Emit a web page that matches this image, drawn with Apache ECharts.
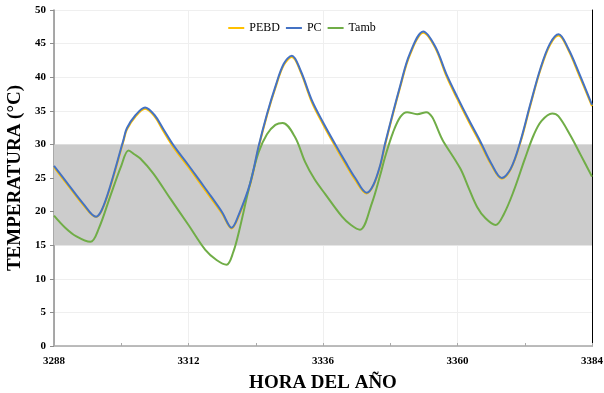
<!DOCTYPE html>
<html><head><meta charset="utf-8">
<script src="https://cdn.jsdelivr.net/npm/echarts@6/dist/echarts.min.js"></script>
<style>html,body{margin:0;padding:0;background:#fff}#c{width:604px;height:393px}</style>
</head><body><div id="c"></div>
<script>
var xTicks = [3288, 3312, 3336, 3360, 3384];
var pcHours = [3288,3290.5,3293.2,3295.5,3296.5,3298,3300.4,3301,3302.5,3304.25,3306,3307.5,3309.3,3312,3314,3316,3318,3319.7,3321,3323,3324.5,3326,3327.5,3329,3330.45,3332,3334,3336,3338.2,3340,3341.75,3343.8,3345,3346.2,3347.1,3349.8,3351.5,3353.9,3356,3358.1,3360,3362,3364.1,3366,3367.9,3369.5,3371.2,3373,3374.8,3376.5,3378.05,3379.8,3381.6,3384];
var pcVals   = [26.8,24.1,21.2,19.25,20.2,23.7,30.7,32.4,34.3,35.5,34.3,32.3,29.9,26.9,24.6,22.3,19.9,17.6,19.6,24.2,29.7,34.5,38.6,42.0,43.2,41.0,36.6,33.3,30.0,27.4,25.0,22.8,24.0,26.9,30.2,38.8,43.5,46.8,44.6,40.3,37.0,33.7,30.4,27.2,25.0,26.4,30.4,36.0,41.3,45.0,46.4,44.2,40.8,35.9];
var pebdVals = [26.6,23.9,21.0,19.2,20.1,23.5,30.5,32.2,34.1,35.3,34.1,32.0,29.6,26.6,24.3,22.0,19.7,17.5,19.4,24.0,29.5,34.3,38.4,41.8,43.0,40.8,36.3,33.0,29.7,27.1,24.7,22.7,23.9,26.7,30.0,38.6,43.3,46.6,44.4,40.0,36.7,33.4,30.1,27.0,24.9,26.3,30.2,35.8,41.1,44.8,46.2,44.0,40.5,35.7];
var tambHours = [3288,3290,3292,3294.5,3296,3298,3300,3301.3,3302.4,3303.4,3305.7,3308.7,3312,3315,3317,3318.8,3320,3321,3323,3324.5,3326,3327.5,3328.8,3331,3332.8,3334.5,3336.4,3339.4,3341,3342.6,3344.7,3346.2,3347.1,3348.5,3349.8,3351,3352.8,3354.4,3357.5,3360.5,3362,3363.5,3365,3366.8,3368.2,3370,3372,3373.6,3375,3376.9,3378,3380.1,3382,3384];
var tambVals  = [19.4,17.6,16.3,15.5,17.5,22.2,26.8,29.1,28.5,27.9,25.7,22.0,18.0,14.3,12.8,12.1,14.0,17.0,24.2,28.8,31.5,32.9,33.2,31.1,27.4,24.8,22.6,19.25,18.0,17.3,21.2,25.4,28.2,31.8,34.1,34.8,34.5,34.8,30.4,26.4,23.5,20.7,19.0,18.0,19.5,23.0,27.8,31.4,33.5,34.6,34.2,31.4,28.4,25.2];
var comfortBand = [15, 30];

function pairs(h, v){ return h.map(function(x,i){ return [x, v[i]]; }); }
var font = '"Liberation Serif","Times New Roman",serif';
var chart = echarts.init(document.getElementById('c'));
chart.setOption({
  animation: false,
  backgroundColor: '#fff',
  grid: {left: 54, right: 12, top: 10, bottom: 47, containLabel: false, outerBoundsMode: 'none'},
  legend: {
    top: 17, left: 'center', itemGap: 6, itemWidth: 16, itemHeight: 2, icon: 'rect',
    textStyle: {fontFamily: font, fontSize: 12, color: '#000'},
    data: ['PEBD','PC','Tamb']
  },
  xAxis: [{
    type: 'value', min: xTicks[0], max: xTicks[xTicks.length-1], interval: 24,
    name: 'HORA DEL AÑO', nameLocation: 'middle', nameGap: 28,
    nameTextStyle: {fontFamily: font, fontSize: 19, fontWeight: 'bold', color: '#000'},
    axisLine: {show: true, lineStyle: {color: '#f2f2f2'}},
    axisTick: {show: true, inside: true, length: 3, lineStyle: {color: '#aaa'}},
    minorTick: {show: true, splitNumber: 2, length: 3, lineStyle: {color: '#aaa'}},
    axisLabel: {fontFamily: font, fontSize: 11, fontWeight: 'bold', color: '#000', margin: 10,
                formatter: function(v){ return String(v); }},
    splitLine: {show: true, lineStyle: {color: '#efefef'}}
  },{
    type: 'value', position: 'top', min: xTicks[0], max: xTicks[xTicks.length-1],
    axisLine: {show: true, lineStyle: {color: '#a6a6a6', width: 1.5}},
    axisTick: {show: false}, axisLabel: {show: false}, splitLine: {show: false}
  }],
  yAxis: [{
    type: 'value', min: 0, max: 50, interval: 5,
    name: 'TEMPERATURA (°C)', nameLocation: 'middle', nameGap: 27, nameRotate: 90,
    nameTextStyle: {fontFamily: font, fontSize: 19, fontWeight: 'bold', color: '#000'},
    axisLine: {show: true, lineStyle: {color: '#8c8c8c', width: 1.5}},
    axisTick: {show: true, length: 4, lineStyle: {color: '#8c8c8c'}},
    axisLabel: {fontFamily: font, fontSize: 11, fontWeight: 'bold', color: '#000', margin: 8},
    splitLine: {show: true, lineStyle: {color: '#efefef'}}
  },{
    type: 'value', position: 'right', min: 0, max: 50,
    axisLine: {show: true, lineStyle: {color: '#000', width: 1}},
    axisTick: {show: false}, axisLabel: {show: false}, splitLine: {show: false}
  }],
  series: [
    {name: 'PEBD', type: 'line', smooth: 0.35, showSymbol: false, data: pairs(pcHours, pebdVals),
     lineStyle: {color: '#FFC000', width: 2}, itemStyle: {color: '#FFC000'}, z: 3,
     markArea: {silent: true, itemStyle: {color: '#cccccc'}, data: [[{yAxis: comfortBand[0]}, {yAxis: comfortBand[1]}]]}},
    {name: 'PC', type: 'line', smooth: 0.35, showSymbol: false, data: pairs(pcHours, pcVals),
     lineStyle: {color: '#4472C4', width: 2}, itemStyle: {color: '#4472C4'}, z: 4},
    {name: 'Tamb', type: 'line', smooth: 0.35, showSymbol: false, data: pairs(tambHours, tambVals),
     lineStyle: {color: '#70AD47', width: 2}, itemStyle: {color: '#70AD47'}, z: 3}
  ]
});
</script></body></html>
